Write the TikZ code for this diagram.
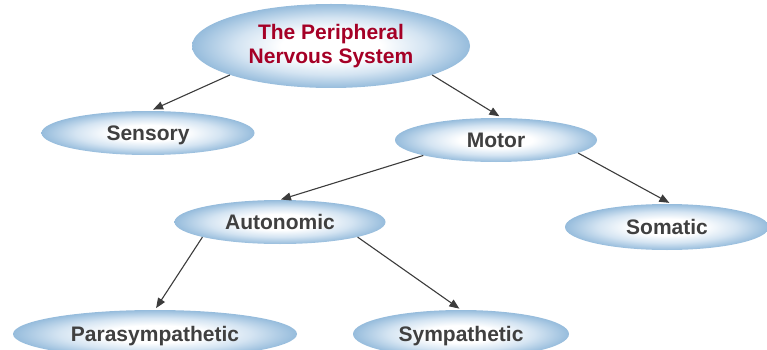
\documentclass[tikz,border=0pt]{standalone}
\usepackage{fontspec}
\setmainfont{Liberation Sans}
\usetikzlibrary{shapes.geometric,arrows.meta}
\definecolor{edgeblue}{RGB}{150,188,220}
\definecolor{midblue}{RGB}{212,228,242}
\definecolor{txtgray}{RGB}{64,64,64}
\definecolor{txtred}{RGB}{165,0,38}
\definecolor{arrgray}{RGB}{60,60,60}
\pgfdeclareradialshading{ellshade}{\pgfpoint{0bp}{0bp}}{%
  color(0bp)=(white); color(9bp)=(white); color(17bp)=(midblue); color(25bp)=(edgeblue); color(50bp)=(edgeblue)}
\tikzset{
  bubble/.style={ellipse, shading=ellshade, inner sep=0pt, font=\fontsize{21}{24.5}\selectfont\bfseries, text=txtgray},
  oneline/.style={text height=15pt, text depth=0pt},
  link/.style={draw=arrgray, line width=1.1pt, -{Triangle[length=10pt,width=8pt]}},
}
\begin{document}
\begin{tikzpicture}[x=1pt,y=-1pt]
\useasboundingbox (0,0) rectangle (767,350);
\clip (0,0) rectangle (767,350);
\node[bubble, minimum width=278pt, minimum height=84pt, align=center, text=txtred] (pns) at (331,46) {The Peripheral\\Nervous System};
\node[bubble, oneline, minimum width=213pt, minimum height=44pt] (sens) at (148,133) {Sensory};
\node[bubble, oneline, minimum width=202pt, minimum height=44pt] (motor) at (496,140) {Motor};
\node[bubble, oneline, minimum width=211pt, minimum height=44pt] (auto) at (280,222) {Autonomic};
\node[bubble, oneline, minimum width=204pt, minimum height=46pt] (soma) at (667,227) {Somatic};
\node[bubble, oneline, minimum width=284pt, minimum height=48pt] (para) at (155,334) {Parasympathetic};
\node[bubble, oneline, minimum width=216pt, minimum height=48pt] (symp) at (461,334) {Sympathetic};
\draw[link, shorten >=3pt] (pns.196) -- (sens.84);
\draw[link, shorten >=3pt] (pns.344) -- (motor.75);
\draw[link, shorten >=1pt] (motor.192) -- (auto.north);
\draw[link, shorten >=2pt] (motor.351) -- (soma.80);
\draw[link, shorten >=2pt] (auto.191) -- (para.north);
\draw[link, shorten >=2pt] (auto.349) -- (symp.north);
\end{tikzpicture}
\end{document}
